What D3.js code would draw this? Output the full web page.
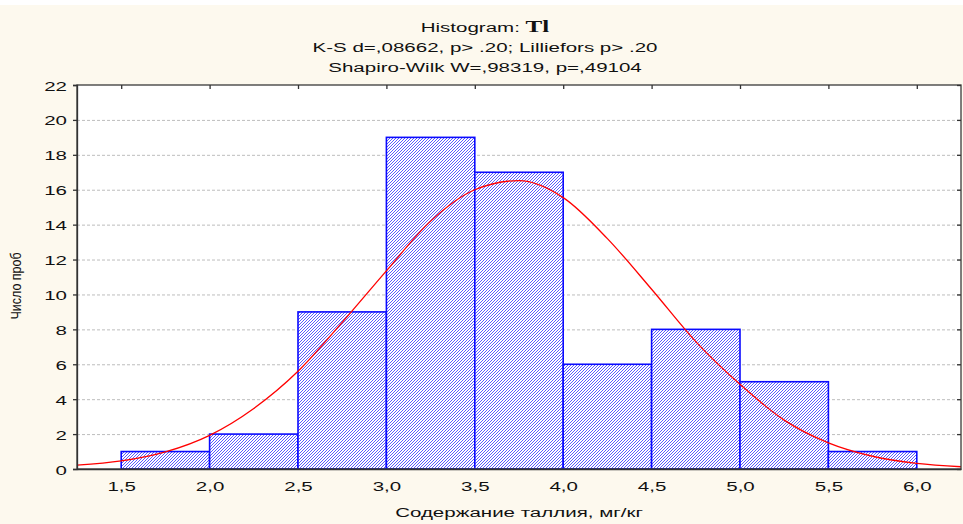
<!DOCTYPE html>
<html>
<head>
<meta charset="utf-8">
<script src="https://cdn.jsdelivr.net/npm/d3@7/dist/d3.min.js"></script>
<style>
  html, body { margin: 0; padding: 0; background: #fdf9ee; }
  svg { display: block; }
  text { font-family: "Liberation Sans", Arial, sans-serif; fill: #111; }
</style>
</head>
<body>
<svg id="chart" width="963" height="524"></svg>
<script>
// ---- data ----
const binStart = [1.5, 2.0, 2.5, 3.0, 3.5, 4.0, 4.5, 5.0, 5.5];
const binEnd   = [2.0, 2.5, 3.0, 3.5, 4.0, 4.5, 5.0, 5.5, 6.0];
const counts   = [1, 2, 9, 19, 17, 6, 8, 5, 1];

const xTicks      = [1.5, 2.0, 2.5, 3.0, 3.5, 4.0, 4.5, 5.0, 5.5, 6.0];
const xTickLabels = ["1,5", "2,0", "2,5", "3,0", "3,5", "4,0", "4,5", "5,0", "5,5", "6,0"];
const yTicks      = [0, 2, 4, 6, 8, 10, 12, 14, 16, 18, 20, 22];

// expected-normal curve
const curveX = [1.25, 1.5, 1.75, 2.0, 2.25, 2.5, 2.75, 3.0, 3.25, 3.5, 3.75, 4.0, 4.25, 4.5, 4.75, 5.0, 5.25, 5.5, 5.75, 6.0, 6.25];
const curveY = [0.22, 0.46, 0.98, 1.93, 3.47, 5.6, 8.4, 11.35, 14.2, 16.0, 16.52, 15.55, 13.2, 10.3, 7.3, 4.85, 2.8, 1.5, 0.73, 0.32, 0.13];

const titleMain   = "Histogram: ";
const titleVar    = "Tl";
const titleLine2  = "K-S d=,08662, p> .20; Lilliefors p> .20";
const titleLine3  = "Shapiro-Wilk W=,98319, p=,49104";
const xAxisTitle  = "Содержание таллия, мг/кг";
const yAxisTitle  = "Число проб";

// ---- layout ----
const W = 963, H = 524;
const plot = { left: 77, right: 961, top: 85, bottom: 469 };
const FS = 13.5;
const SX = 1.52; // horizontal stretch of the text in the reference

const svg = d3.select("#chart");

svg.append("rect").attr("x", 0).attr("y", 0).attr("width", W).attr("height", 5).attr("fill", "#ffffff");

const x = d3.scaleLinear().domain([1.25, 6.25]).range([plot.left, plot.right]);
const y = d3.scaleLinear().domain([0, 22]).range([plot.bottom, plot.top]);

// hatch pattern
const defs = svg.append("defs");
const pat = defs.append("pattern")
  .attr("id", "hatch").attr("patternUnits", "userSpaceOnUse")
  .attr("width", 3).attr("height", 3);
pat.append("rect").attr("width", 3).attr("height", 3).attr("fill", "#ffffff");
pat.append("path")
  .attr("d", "M-1,1 L1,-1 M0,3 L3,0 M2,4 L4,2")
  .attr("stroke", "#3030ff").attr("stroke-width", 0.8);

// plot background
svg.append("rect")
  .attr("x", plot.left).attr("y", plot.top)
  .attr("width", plot.right - plot.left).attr("height", plot.bottom - plot.top)
  .attr("fill", "#ffffff");

// gridlines
svg.append("g").selectAll("line").data(yTicks.filter(d => d > 0 && d < 22)).join("line")
  .attr("x1", plot.left).attr("x2", plot.right)
  .attr("y1", d => y(d) + 0.5).attr("y2", d => y(d) + 0.5)
  .attr("stroke", "#bdbdbd").attr("stroke-width", 1).attr("stroke-dasharray", "3,2");

// bars
const bars = binStart.map((s, i) => ({ s, e: binEnd[i], c: counts[i] }));
svg.append("g").selectAll("rect").data(bars).join("rect")
  .attr("x", d => x(d.s)).attr("y", d => y(d.c))
  .attr("width", d => x(d.e) - x(d.s)).attr("height", d => y(0) - y(d.c))
  .attr("fill", "url(#hatch)")
  .attr("stroke", "#0a0aff").attr("stroke-width", 1.6);

// curve
const line = d3.line().x((d, i) => x(curveX[i])).y(d => y(d)).curve(d3.curveMonotoneX);
svg.append("path").datum(curveY)
  .attr("d", line)
  .attr("fill", "none").attr("stroke", "#ff0000").attr("stroke-width", 1.3);

// frame
svg.append("rect")
  .attr("x", plot.left).attr("y", plot.top)
  .attr("width", plot.right - plot.left).attr("height", plot.bottom - plot.top)
  .attr("fill", "none").attr("stroke", "#3a3a3a").attr("stroke-width", 1.3);

// left axis
const yAxis = d3.axisLeft(y).tickValues(yTicks).tickSize(4).tickFormat("");
const gy = svg.append("g").attr("transform", `translate(${plot.left},0)`).call(yAxis);
gy.select(".domain").attr("stroke", "#333").attr("stroke-width", 1.3);
gy.selectAll(".tick line").attr("stroke", "#333").attr("stroke-width", 1.3);
gy.selectAll(".tick").append("text")
  .attr("transform", `translate(-10,5) scale(${SX},1)`)
  .attr("text-anchor", "end").attr("font-size", FS)
  .style("fill", "#111")
  .text(d => d);

// right axis (inward ticks)
const yAxisR = d3.axisLeft(y).tickValues(yTicks).tickSize(4).tickFormat("");
const gyr = svg.append("g").attr("transform", `translate(${plot.right},0)`).call(yAxisR);
gyr.select(".domain").remove();
gyr.selectAll(".tick line").attr("stroke", "#333").attr("stroke-width", 1.3);

// top axis (inward ticks)
const xTop = d3.axisBottom(x).tickValues(xTicks).tickSize(4).tickFormat("");
const gxt = svg.append("g").attr("transform", `translate(0,${plot.top})`).call(xTop);
gxt.select(".domain").remove();
gxt.selectAll(".tick line").attr("stroke", "#333").attr("stroke-width", 1.3);

// bottom axis labels
const xAxis = d3.axisBottom(x).tickValues(xTicks).tickSize(0).tickFormat("");
const gx = svg.append("g").attr("transform", `translate(0,${plot.bottom})`).call(xAxis);
gx.select(".domain").attr("stroke", "#333").attr("stroke-width", 1.3);
gx.selectAll(".tick").append("text")
  .attr("transform", `translate(0,22) scale(${SX},1)`)
  .attr("text-anchor", "middle").attr("font-size", FS)
  .style("fill", "#111")
  .text((d, i) => xTickLabels[i]);

// titles
const cx = 485;
const t1 = svg.append("text")
  .attr("transform", `translate(${cx},32) scale(${SX},1)`)
  .attr("text-anchor", "middle").attr("font-size", FS);
t1.append("tspan").text(titleMain);
t1.append("tspan").text(titleVar)
  .style("font-family", "'Liberation Serif', 'Times New Roman', serif")
  .style("font-weight", "bold").attr("font-size", 16.5);

svg.append("text")
  .attr("transform", `translate(${cx},52) scale(${SX},1)`)
  .attr("text-anchor", "middle").attr("font-size", FS)
  .text(titleLine2);
svg.append("text")
  .attr("transform", `translate(${cx},72) scale(${SX},1)`)
  .attr("text-anchor", "middle").attr("font-size", FS)
  .text(titleLine3);

// axis titles
svg.append("text")
  .attr("transform", `translate(${(plot.left + plot.right) / 2},517) scale(${SX},1)`)
  .attr("text-anchor", "middle").attr("font-size", FS)
  .text(xAxisTitle);

svg.append("text")
  .attr("transform", `translate(21,${(plot.top + plot.bottom) / 2 + 9}) rotate(-90) scale(1,1.2)`)
  .attr("text-anchor", "middle").attr("font-size", 12.5)
  .text(yAxisTitle);
</script>
</body>
</html>
